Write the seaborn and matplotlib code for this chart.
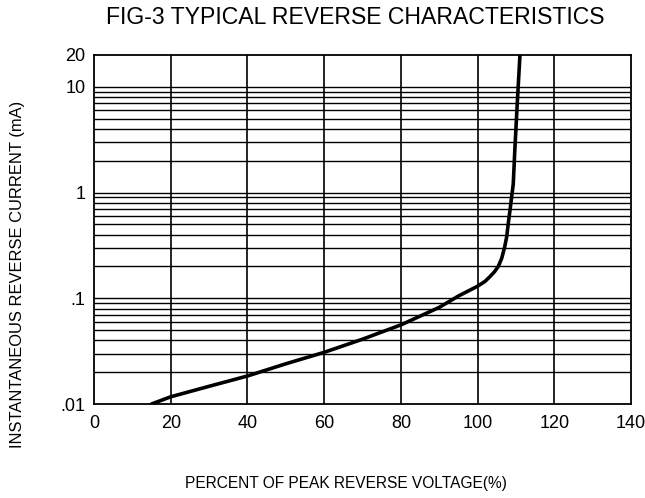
import matplotlib
matplotlib.use("Agg")
import matplotlib.pyplot as plt
import seaborn as sns
import pandas as pd
from matplotlib.ticker import FixedLocator, NullFormatter

# Data
percent_voltage = [15, 20, 30, 40, 50, 60, 70, 80, 90, 95, 100, 102, 103.2, 104.4, 105.4,
                   106.3, 107.1, 107.6, 108.0, 108.5, 108.9, 109.3, 109.75, 110.3, 111.05]
reverse_current = [0.01, 0.0117, 0.0147, 0.0184, 0.024, 0.0308, 0.041, 0.056, 0.082, 0.105, 0.13, 0.145, 0.16, 0.178, 0.2,
                   0.239, 0.31, 0.383, 0.51, 0.7, 0.92, 1.2, 2.7, 6.5, 20]
x_ticks = [0, 20, 40, 60, 80, 100, 120, 140]
y_ticks = [0.01, 0.1, 1, 10, 20]
y_tick_labels = [".01", ".1", "1", "10", "20"]

sns.set_style("white")
plt.rcParams['font.family'] = ['Liberation Sans Narrow', 'Liberation Sans', 'DejaVu Sans']

df = pd.DataFrame({"v": percent_voltage, "i": reverse_current})

fig = plt.figure(figsize=(6.45, 4.98), dpi=100)
ax = fig.add_axes([94/645, (498-404)/498, (631-94)/645, (404-55)/498])

sns.lineplot(data=df, x="v", y="i", ax=ax, color="black", linewidth=2.6, sort=False, zorder=3)
ax.lines[0].set_solid_joinstyle("round")
ax.set_yscale("log")
ax.set_xlim(0, 140)
ax.set_ylim(0.01, 20)

# grid lines
minor_y = [m * 10.0**e for e in (-2, -1, 0) for m in range(1, 10)] + [10]
for yv in minor_y:
    if 0.01 < yv < 20:
        ax.axhline(yv, color="black", linewidth=1.0, zorder=1)
for xv in x_ticks[1:-1]:
    ax.axvline(xv, color="black", linewidth=1.2, zorder=1)

ax.xaxis.set_major_locator(FixedLocator(x_ticks))
ax.set_xticklabels([str(t) for t in x_ticks])
ax.yaxis.set_major_locator(FixedLocator(y_ticks))
ax.yaxis.set_minor_locator(FixedLocator([]))
ax.yaxis.set_minor_formatter(NullFormatter())
ax.set_yticklabels(y_tick_labels)
ax.tick_params(axis="both", length=0, labelsize=13, colors="black", pad=8)
ax.tick_params(axis="y", pad=6)

for s in ax.spines.values():
    s.set_color("black")
    s.set_linewidth(1.3)

ax.set_xlabel("")
ax.set_ylabel("")
fig.text(355/645, 1 - 18/498, "FIG-3 TYPICAL REVERSE CHARACTERISTICS", ha="center", va="center", fontsize=16.6, color="black")
fig.text(346/645, 1 - 483/498, "PERCENT OF PEAK REVERSE VOLTAGE(%)", ha="center", va="center", fontsize=11.2, color="black")
fig.text(18/645, 1 - 274/498, "INSTANTANEOUS REVERSE CURRENT (mA)", ha="center", va="center", rotation=90, fontsize=11.9, color="black")

fig.savefig("out.png", dpi=100, facecolor="white")
